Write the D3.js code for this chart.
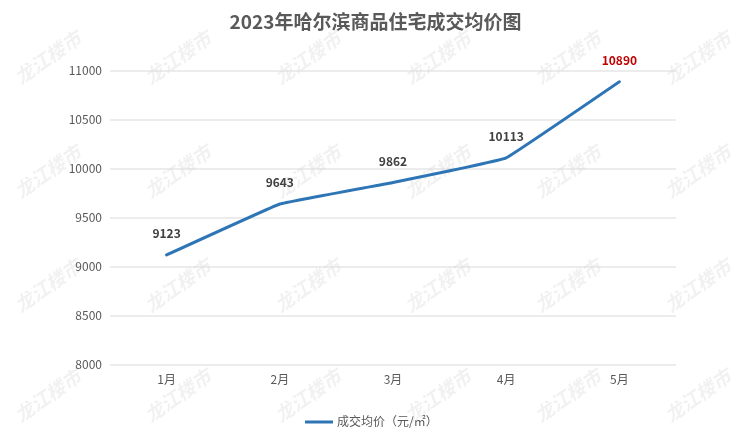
<!DOCTYPE html>
<html>
<head>
<meta charset="utf-8">
<script src="https://cdn.jsdelivr.net/npm/d3@7"></script>
<style>
  body { margin: 0; background: #fff; }
  text { font-family: "Noto Sans CJK SC", "Noto Sans", sans-serif; }
</style>
</head>
<body>
<div id="chart"></div>
<script>
// data
var months = ["1月", "2月", "3月", "4月", "5月"];
var prices = [9123, 9643, 9862, 10113, 10890];
var yTicks = [8000, 8500, 9000, 9500, 10000, 10500, 11000];
var seriesName = "成交均价（元/㎡）";
var title = "2023年哈尔滨商品住宅成交均价图";
var watermark = "龙江楼市";

var W = 751, H = 438;
var margin = {top: 71, right: 75, bottom: 73, left: 110},
    width = W - margin.left - margin.right,
    height = H - margin.top - margin.bottom;

var svg = d3.select("#chart")
  .append("svg")
    .attr("width", W)
    .attr("height", H);

// faint watermark grid
var wm = svg.append("g").attr("opacity", 0.055);
[58, 172, 286, 396].forEach(function(wy) {
  [48, 178, 308, 438, 568, 698].forEach(function(wx) {
    wm.append("text")
      .attr("transform", "translate(" + wx + "," + wy + ")rotate(-35)")
      .attr("text-anchor", "middle")
      .attr("dy", "0.35em")
      .attr("font-size", 19)
      .attr("font-weight", "bold")
      .attr("font-style", "italic")
      .attr("fill", "#000")
      .text(watermark);
  });
});

var g = svg.append("g")
    .attr("transform", "translate(" + margin.left + "," + margin.top + ")");

var x = d3.scaleBand()
  .domain(months)
  .range([0, width]);

var y = d3.scaleLinear()
  .domain([8000, 11000])
  .range([height, 0]);

// gridlines
g.selectAll("line.grid")
  .data(yTicks)
  .enter()
  .append("line")
    .attr("x1", 0)
    .attr("x2", width)
    .attr("y1", function(d) { return y(d); })
    .attr("y2", function(d) { return y(d); })
    .attr("stroke", "#d9d9d9")
    .attr("stroke-width", 1);

// Y axis
var yAxis = g.append("g")
  .call(d3.axisLeft(y).tickValues(yTicks).tickFormat(d3.format("d")).tickSize(0).tickPadding(8));
yAxis.select(".domain").remove();
yAxis.selectAll("text")
  .attr("font-size", 12)
  .attr("fill", "#595959")
  .style("font-family", "\"Noto Sans CJK SC\", sans-serif");

// X axis
var xAxis = g.append("g")
  .attr("transform", "translate(0," + height + ")")
  .call(d3.axisBottom(x).tickSize(0).tickPadding(10));
xAxis.select(".domain").remove();
xAxis.selectAll("text")
  .attr("font-size", 12)
  .attr("fill", "#595959")
  .style("font-family", "\"Noto Sans CJK SC\", sans-serif");

// line
var line = d3.line()
  .x(function(d, i) { return x(months[i]) + x.bandwidth() / 2; })
  .y(function(d) { return y(d); })
  .curve(d3.curveCardinal.tension(0.85));

g.append("path")
  .datum(prices)
  .attr("d", line)
  .attr("fill", "none")
  .attr("stroke", "#2e75b6")
  .attr("stroke-width", 3)
  .attr("stroke-linecap", "round");

// value labels
g.selectAll("text.val")
  .data(prices)
  .enter()
  .append("text")
    .attr("class", "val")
    .attr("x", function(d, i) { return x(months[i]) + x.bandwidth() / 2; })
    .attr("y", function(d) { return y(d) - 17; })
    .attr("text-anchor", "middle")
    .attr("font-size", 12)
    .attr("font-weight", "bold")
    .attr("fill", function(d, i) { return i === prices.length - 1 ? "#c00000" : "#404040"; })
    .text(function(d) { return d; });

// title
svg.append("text")
  .attr("x", W / 2)
  .attr("y", 29)
  .attr("text-anchor", "middle")
  .attr("font-size", 19)
  .attr("font-weight", "bold")
  .attr("fill", "#595959")
  .text(title);

// legend
var lg = svg.append("g").attr("transform", "translate(305,422)");
lg.append("line")
  .attr("x1", 0).attr("x2", 28)
  .attr("stroke", "#2e75b6")
  .attr("stroke-width", 3);
lg.append("text")
  .attr("x", 32)
  .attr("dy", "0.35em")
  .attr("font-size", 12)
  .attr("fill", "#595959")
  .text(seriesName);
</script>
</body>
</html>
